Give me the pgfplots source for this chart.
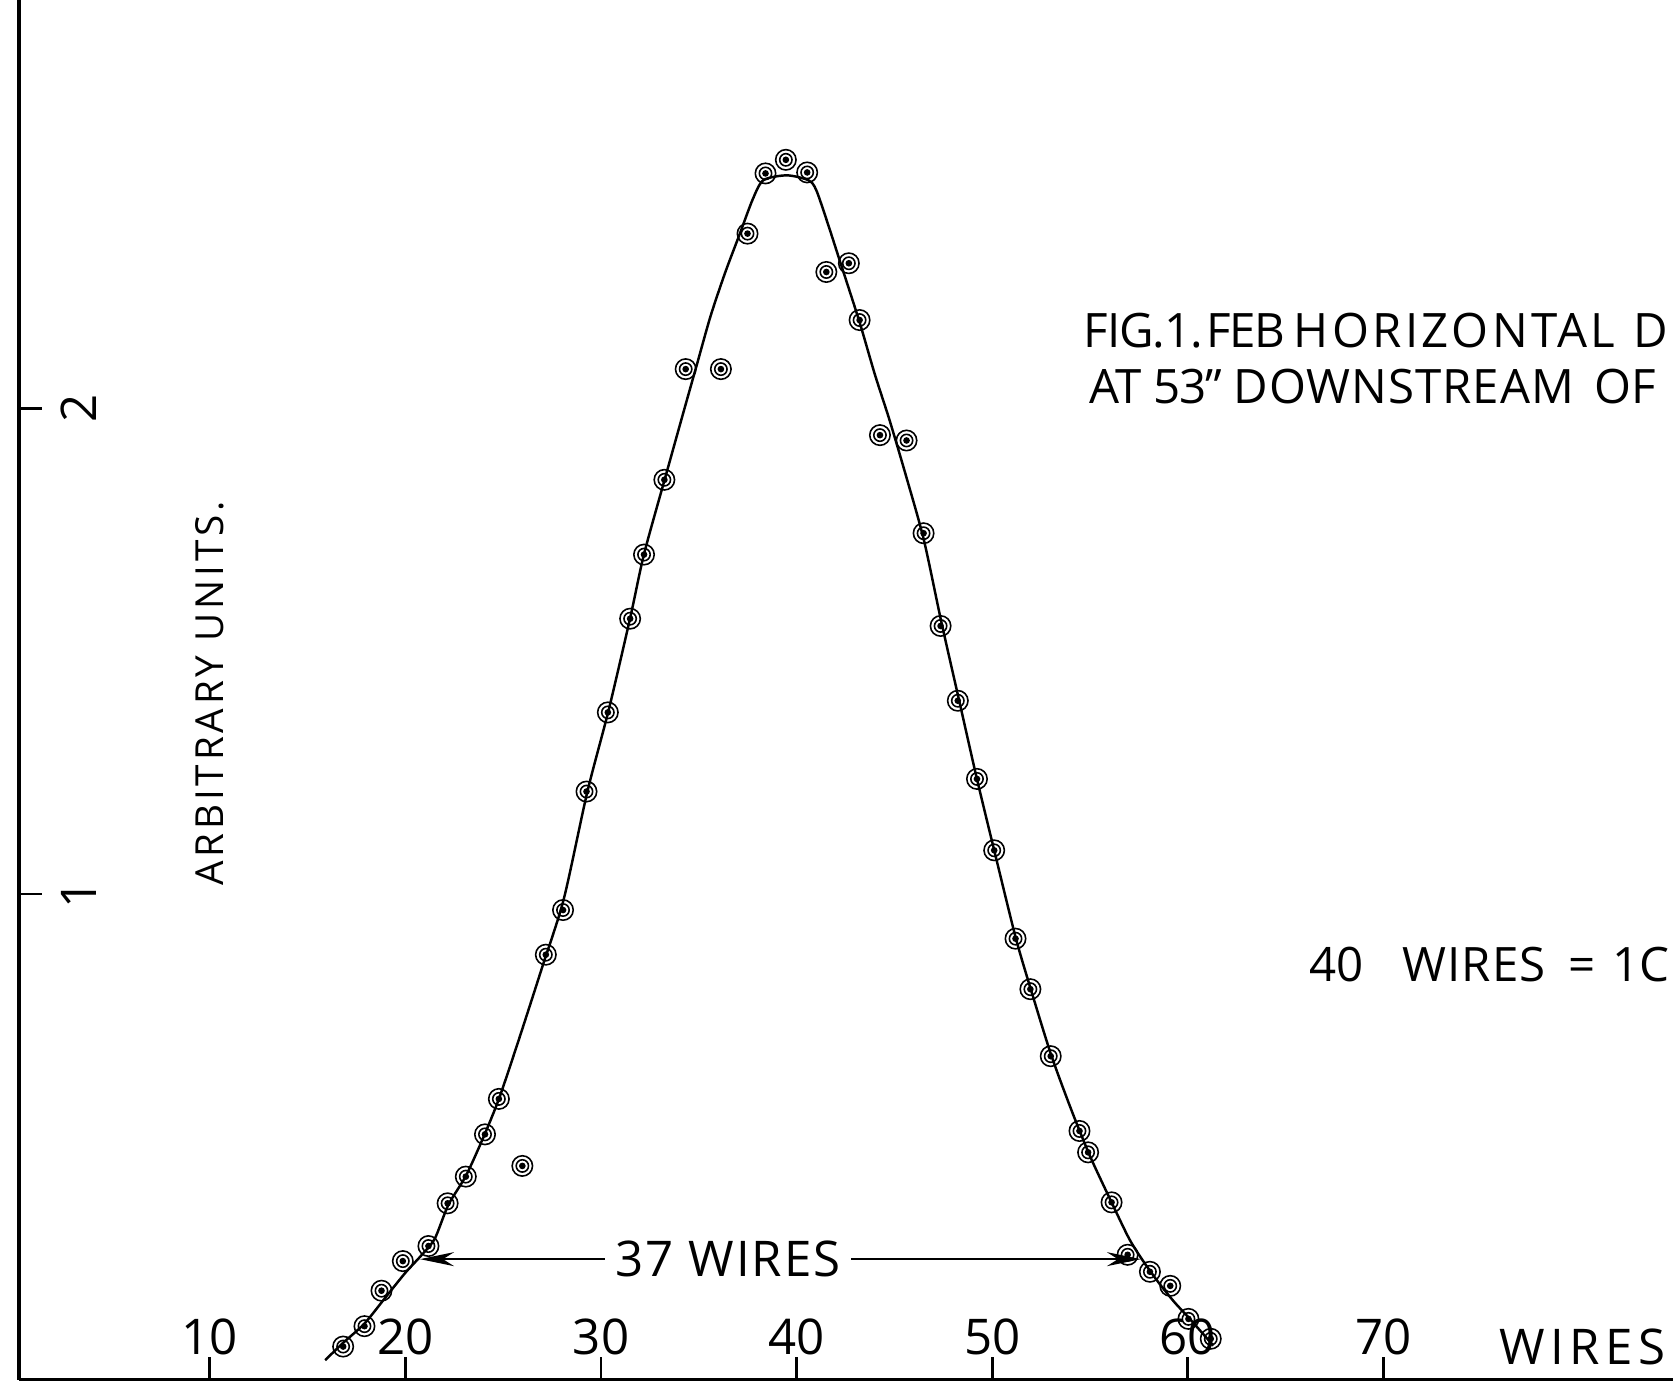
\documentclass[border=0pt]{standalone}
\usepackage{fontspec}
\setmainfont{Open Sans}
\usepackage{pgfplots}
\pgfplotsset{compat=1.18}
\usetikzlibrary{arrows.meta}

\pgfdeclareplotmark{target}{%
  \pgfsetlinewidth{0.45pt}%
  \pgfpathcircle{\pgfpoint{0pt}{0pt}}{2.9pt}\pgfusepathqstroke
  \pgfpathcircle{\pgfpoint{0pt}{0pt}}{1.75pt}\pgfusepathqstroke
  \pgfpathcircle{\pgfpoint{0pt}{0pt}}{0.95pt}\pgfusepathqfill}

\begin{document}
\begin{tikzpicture}
\useasboundingbox (0,0) rectangle (16.73cm,13.89cm);
\clip (0,0) rectangle (16.73cm,13.89cm);
\begin{axis}[
  at={(0.19cm,0.094cm)}, anchor=south west,
  scale only axis, width=16.54cm, height=13.80cm,
  xmin=0.25, xmax=84.8, ymin=0, ymax=2.842,
  axis x line=bottom, axis y line=left,
  axis line style={-, line width=0.9pt},
  xtick={10,20,...,70}, ytick={1,2},
  yticklabels={},
  tick align=inside, major tick length=0.23cm,
  tick style={line width=0.8pt, black},
  xticklabel style={anchor=south, yshift=0.12cm, font=\fontsize{14}{14}\selectfont},
  /pgf/number format/assume math mode=true,
  clip=false,
]
% fitted curve
\addplot[black, line width=0.7pt, smooth, tension=0.45] coordinates {
(15.9,0.04) (16.8,0.075) (17.9,0.115) (19.0,0.17) (20.0,0.22) (20.8,0.255)
(21.5,0.29) (22.2,0.36) (23.1,0.42) (24.0,0.50) (24.8,0.58) (25.8,0.70)
(27.0,0.85) (28.1,0.99) (29.3,1.21) (30.4,1.38) (31.5,1.57) (32.2,1.70)
(33.3,1.86) (34.2,1.99) (34.9,2.09) (35.6,2.19) (36.35,2.28) (37.1,2.36)
(37.75,2.43) (38.3,2.47) (39.5,2.48) (40.6,2.47) (41.0,2.45) (41.6,2.38)
(42.2,2.305) (43.2,2.18) (44.0,2.07) (44.75,1.976) (45.6,1.86) (46.5,1.73)
(47.4,1.56) (48.3,1.40) (49.2,1.24) (50.1,1.09) (51.2,0.91) (52.0,0.80)
(53.0,0.67) (54.0,0.56) (55.0,0.46) (56.1,0.365) (57.0,0.29) (57.7,0.245)
(58.5,0.20) (59.3,0.16) (60.1,0.125) (61.3,0.07)
};
% measured points
\addplot[only marks, mark=target, black] coordinates {
(16.82,0.068) (17.91,0.110) (18.78,0.183) (19.87,0.244) (21.18,0.275)
(22.16,0.363) (23.09,0.418) (24.07,0.505) (24.78,0.578) (25.98,0.440)
(27.18,0.875) (28.06,0.967) (29.26,1.211) (30.35,1.374) (31.49,1.567)
(32.20,1.699) (33.24,1.853) (34.33,2.081) (36.13,2.081) (37.49,2.360)
(38.41,2.484) (39.45,2.512) (40.54,2.486) (41.52,2.281) (42.67,2.299)
(43.22,2.182) (44.26,1.945) (45.62,1.934) (46.49,1.743) (47.36,1.552)
(48.24,1.398) (49.22,1.237) (50.10,1.090) (51.19,0.908) (51.95,0.804)
(52.99,0.666) (54.46,0.512) (54.90,0.468) (56.10,0.365) (56.92,0.257)
(58.06,0.222) (59.10,0.193) (60.03,0.125) (61.17,0.084)
};
% width arrow
\draw[{Stealth[length=0.34cm,width=0.14cm]}-{Stealth[length=0.34cm,width=0.14cm]}, line width=0.6pt]
  (axis cs:20.75,0.248) -- (axis cs:57.6,0.248);
\node[fill=white, inner sep=3pt, font=\fontsize{14}{14}\selectfont\addfontfeatures{LetterSpace=4}] at (axis cs:36.5,0.248) {37 WIRES};
% y tick labels (rotated)
\node[rotate=90, font=\fontsize{14}{14}\selectfont] at (axis cs:3.3,2) {2};
\node[rotate=90, font=\fontsize{14}{14}\selectfont] at (axis cs:3.3,1) {1};
% axis titles
\node[rotate=90, font=\fontsize{11}{11}\selectfont\addfontfeatures{LetterSpace=10}] at (axis cs:10,1.413) {ARBITRARY UNITS.};
\node[anchor=east, inner sep=0pt, font=\fontsize{14}{14}\selectfont\addfontfeatures{LetterSpace=11}] at (axis cs:84.45,0.068) {WIRES};
% notes
\node[anchor=west, inner sep=0pt, font=\fontsize{13.5}{13.5}\selectfont] at (axis cs:54.63,2.160)
  {\makebox[1.23cm][l]{\addfontfeatures{LetterSpace=-2}FIG.1.\ }\makebox[0.875cm][l]{\addfontfeatures{LetterSpace=-3}FEB\ }\makebox[3.39cm][l]{\addfontfeatures{LetterSpace=7}HORIZONTAL\ }D};
\node[anchor=west, inner sep=0pt, font=\fontsize{13.5}{13.5}\selectfont] at (axis cs:54.95,2.046)
  {\makebox[0.64cm][l]{\addfontfeatures{LetterSpace=-3}AT\ }\makebox[0.80cm][l]{\addfontfeatures{LetterSpace=-3}53''\ }\makebox[3.61cm][l]{\addfontfeatures{LetterSpace=2}DOWNSTREAM\ }OF};
\node[anchor=west, inner sep=0pt, font=\fontsize{13.5}{13.5}\selectfont] at (axis cs:66.19,0.855)
  {\makebox[0.93cm][l]{40\ }\makebox[1.66cm][l]{\addfontfeatures{LetterSpace=2}WIRES\ }\makebox[0.44cm][l]{=\ }1C};
\end{axis}
\end{tikzpicture}
\end{document}
